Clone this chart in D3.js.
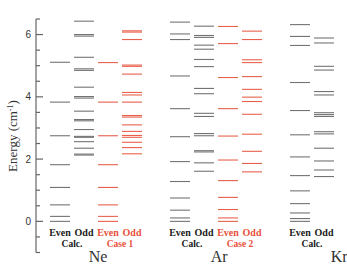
<!DOCTYPE html>
<html><head><meta charset="utf-8">
<script src="https://cdn.jsdelivr.net/npm/d3@7"></script>
<style>body{margin:0;background:#fff}svg{display:block}</style>
</head><body>
<script>
// Energy levels (cm^-1)
const neEvenCalc = [0, 0.16, 0.53, 1.09, 1.82, 2.75, 3.83, 5.11];
const neOddCalc = [2.13, 2.16, 2.35, 2.56, 2.70, 2.73, 2.95, 3.23, 3.27, 3.54, 3.96, 4.01, 4.31, 4.85, 4.90, 5.27, 5.95, 6.0, 6.43];
const neEvenCase1 = [0, 0.16, 0.53, 1.09, 1.82, 2.75, 3.83, 5.10];
const neOddCase1 = [2.17, 2.37, 2.54, 2.70, 2.76, 2.89, 3.10, 3.35, 3.40, 3.83, 4.06, 4.14, 4.73, 4.98, 5.02, 5.84, 6.08, 6.12];
const arEvenCalc = [0, 0.11, 0.36, 0.75, 1.28, 1.92, 2.72, 3.62, 4.67, 5.84, 6.02, 6.40];
const arOddCalc = [1.61, 1.88, 2.23, 2.27, 2.75, 2.82, 3.37, 3.47, 4.10, 4.27, 4.97, 5.20, 5.53, 5.66, 5.91, 5.97, 6.27];
const arEvenCase2 = [0, 0.11, 0.38, 0.77, 1.31, 1.97, 2.74, 3.62, 4.62, 5.71, 6.26];
const arOddCase2 = [1.59, 1.86, 2.25, 2.80, 3.44, 3.85, 3.99, 4.24, 4.65, 5.10, 5.19, 5.84, 6.11];
const krEvenCalc = [0, 0.09, 0.27, 0.57, 0.98, 1.47, 2.07, 2.78, 3.56, 4.46, 5.65, 5.94, 6.32];
const krOddCalc = [1.44, 1.65, 1.94, 2.35, 2.81, 2.88, 3.37, 3.43, 3.49, 4.06, 4.17, 4.86, 4.98, 5.73, 5.89];

const yTickLabels = [0, 2, 4, 6];
const columnLabels = ["Even", "Odd", "Even", "Odd", "Even", "Odd", "Even", "Odd", "Even", "Odd"];
const subLabels = ["Calc.", "Case 1", "Calc.", "Case 2", "Calc."];
const elements = ["Ne", "Ar", "Kr"];

const columns = [
  {slot: 0, data: neEvenCalc, kind: "calc"},
  {slot: 1, data: neOddCalc, kind: "calc"},
  {slot: 2, data: neEvenCase1, kind: "case"},
  {slot: 3, data: neOddCase1, kind: "case"},
  {slot: 5, data: arEvenCalc, kind: "calc"},
  {slot: 6, data: arOddCalc, kind: "calc"},
  {slot: 7, data: arEvenCase2, kind: "case"},
  {slot: 8, data: arOddCase2, kind: "case"},
  {slot: 10, data: krEvenCalc, kind: "calc"},
  {slot: 11, data: krOddCalc, kind: "calc"}
];
const subSlots = [0.5, 2.5, 5.5, 7.5, 10.5];
const subKinds = ["calc", "case", "calc", "case", "calc"];
const elementSlots = [2, 7.05, 12.05];

const W = 347, H = 265;
const SERIF = "'Liberation Serif', 'Times New Roman', Times, serif";
const colors = {calc: "#737373", case: "#e8604c"};
const textColors = {calc: "#1a1a1a", case: "#e8503a"};

const svg = d3.select("body").append("svg").attr("width", W).attr("height", H);

const y = d3.scaleLinear().domain([-1, 6.5]).range([252.5, 19]);
const x = d3.scaleLinear().domain([0, 12]).range([50, 338]);
const colW = 20;

// axis
const axisX = 36;
const minorTicks = d3.range(-1, 6.51, 0.5);
const ax = svg.append("g").attr("transform", `translate(${axisX},0)`);
ax.append("line").attr("x1", 0).attr("x2", 0).attr("y1", y(6.5)).attr("y2", y(-1))
  .attr("stroke", "#666").attr("stroke-width", 1.2);
ax.selectAll("line.t").data(minorTicks).join("line").attr("class", "t")
  .attr("x1", 0).attr("x2", d => yTickLabels.includes(d) ? 7 : 4)
  .attr("y1", d => y(d)).attr("y2", d => y(d))
  .attr("stroke", "#666").attr("stroke-width", 1.2);
ax.selectAll("text").data(yTickLabels).join("text")
  .attr("x", -5).attr("y", d => y(d)).attr("dy", "0.35em")
  .attr("text-anchor", "end").style("font-family", "'Liberation Sans', Arial, sans-serif")
  .attr("font-size", 10).attr("fill", "#333").text(d => d);

// y label
const yl = svg.append("text").style("font-family", SERIF)
  .attr("transform", `translate(17,${136}) rotate(-90)`)
  .attr("text-anchor", "middle")
  .attr("font-size", 13).attr("fill", "#333");
yl.append("tspan").text("Energy (cm");
yl.append("tspan").attr("baseline-shift", "super").attr("font-size", 8).text("-1");
yl.append("tspan").text(")");

// level lines
columns.forEach(c => {
  svg.append("g").selectAll("line").data(c.data).join("line")
    .attr("x1", x(c.slot)).attr("x2", x(c.slot) + colW)
    .attr("y1", d => y(d)).attr("y2", d => y(d))
    .attr("stroke", colors[c.kind]).attr("stroke-width", 1.1);
});

// column labels
svg.append("g").selectAll("text").data(columns).join("text").style("font-family", SERIF)
  .attr("x", c => x(c.slot) + colW / 2).attr("y", 236)
  .attr("text-anchor", "middle")
  .attr("font-weight", "bold").attr("font-size", 10)
  .attr("fill", c => textColors[c.kind]).text((c, i) => columnLabels[i]);

svg.append("g").selectAll("text").data(subLabels).join("text").style("font-family", SERIF)
  .attr("x", (d, i) => x(subSlots[i]) + colW / 2).attr("y", 247)
  .attr("text-anchor", "middle")
  .attr("font-weight", "bold").attr("font-size", 9.5)
  .attr("fill", (d, i) => textColors[subKinds[i]]).text(d => d);

svg.append("g").selectAll("text").data(elements).join("text").style("font-family", SERIF)
  .attr("x", (d, i) => x(elementSlots[i])).attr("y", 262)
  .attr("text-anchor", "middle")
  .attr("font-size", 16).attr("fill", "#333").text(d => d);
</script>
</body></html>
